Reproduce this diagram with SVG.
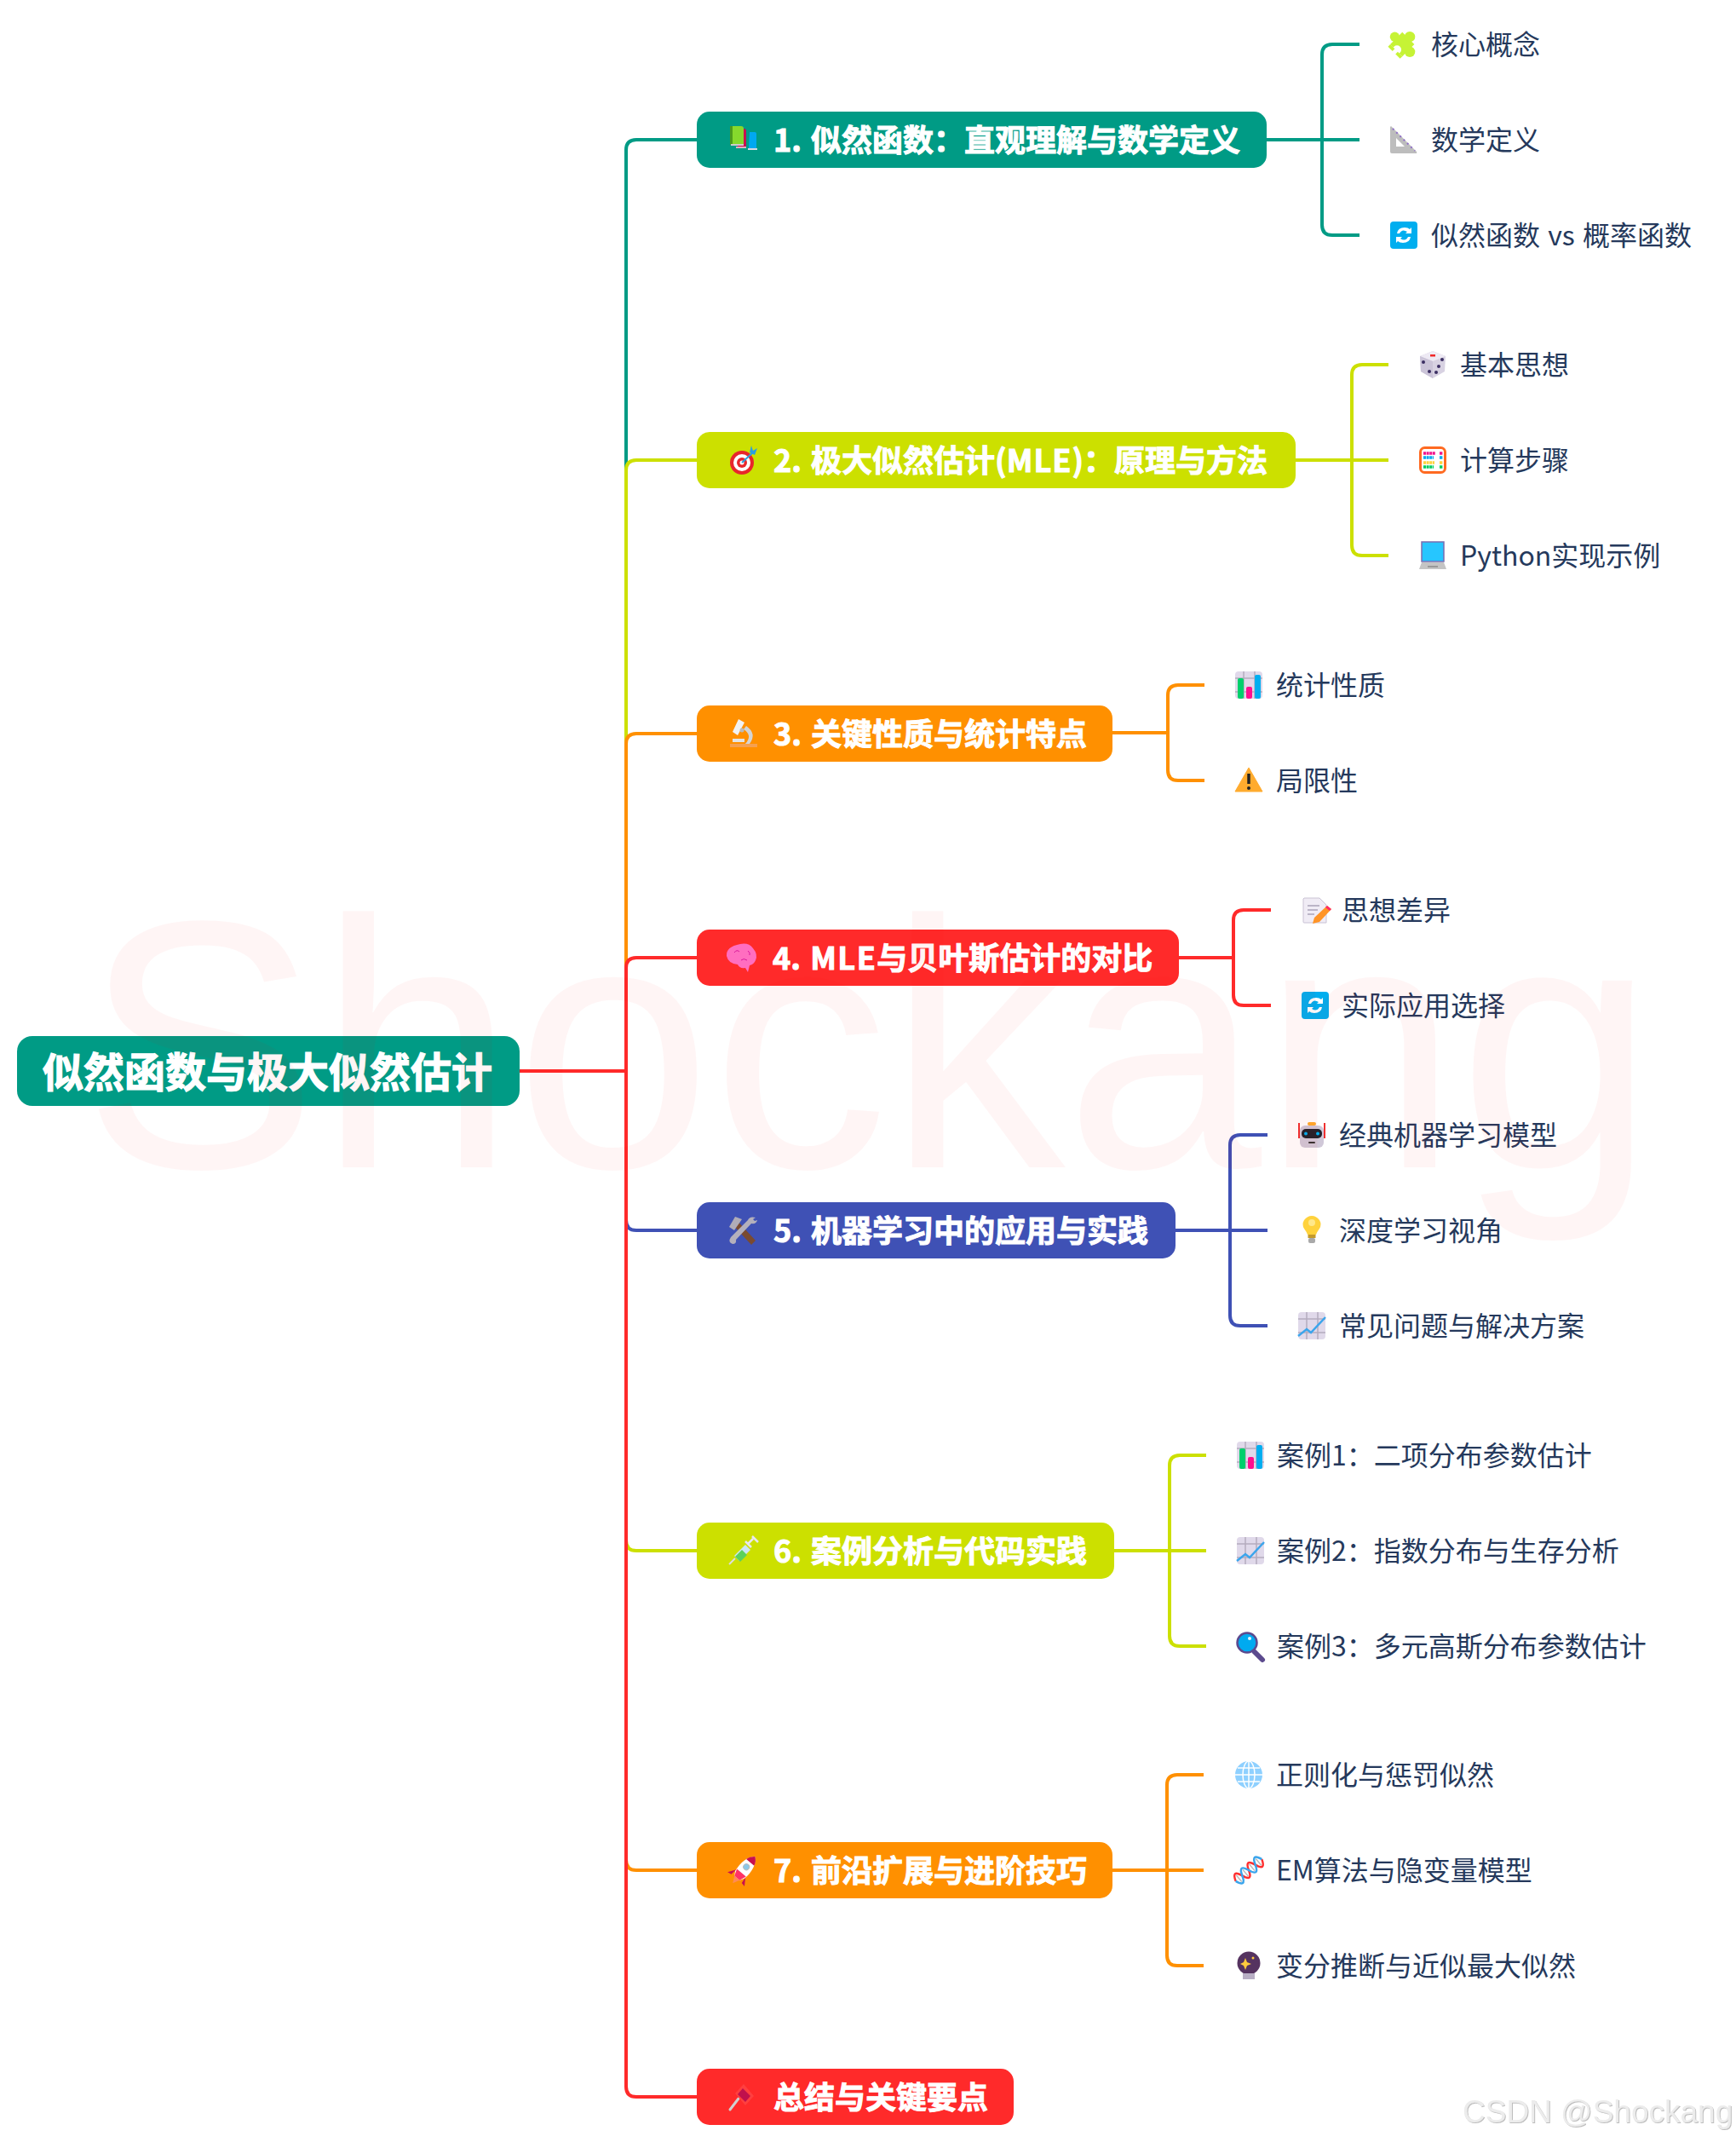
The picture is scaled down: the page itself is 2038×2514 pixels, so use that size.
<svg xmlns="http://www.w3.org/2000/svg" xmlns:xlink="http://www.w3.org/1999/xlink" width="2038" height="2514" viewBox="0 0 2038 2514">
<style>
.l{fill:none;stroke-width:4;stroke-linecap:butt}
.teal{stroke:#009b85}.lime{stroke:#cce000}.org{stroke:#ff9000}.red{stroke:#ff2a2a}.blue{stroke:#3f51b5}
.b1{font-family:"Noto Sans CJK SC","Noto Sans",sans-serif;font-weight:700;font-size:36px;fill:#fff;stroke:#fff;stroke-width:1;word-spacing:3px}
.c{font-family:"Noto Sans CJK SC","Noto Sans",sans-serif;font-size:32px;fill:#25395c}
.r{font-family:"Noto Sans CJK SC",sans-serif;font-weight:700;font-size:48px;fill:#fff;stroke:#fff;stroke-width:1.2}
</style>
<defs>
<filter id="sh" x="-5%" y="-20%" width="110%" height="140%"><feDropShadow dx="1" dy="1" stdDeviation="0.6" flood-color="#bdbdbd"/></filter>
<g id="i-books"><path d="M7 -9h6q2 0 2 2v17h-9z" fill="#00a8f0"/><rect x="5" y="10" width="11" height="2" fill="#d8d8e0"/><path d="M-7 -13h7q3 0 3 2v19h-10z" fill="#c8104f"/><rect x="-9" y="8" width="12" height="2" fill="#e0b0c0"/><path d="M-15 -16h12q3 0 3 3v18h-15z" fill="#86d92c"/><rect x="-16" y="-16" width="3" height="22" fill="#4c9b1c"/><rect x="-15" y="5" width="15" height="2" fill="#ccc"/></g>
<g id="i-puzzle"><g transform="scale(1.25) rotate(45) translate(-1,1)"><rect x="-8" y="-8" width="16" height="16" fill="#c6f335"/><circle cx="0" cy="-10" r="5" fill="#c6f335"/><circle cx="10" cy="0" r="5" fill="#c6f335"/><circle cx="-10" cy="0" r="4.500" fill="#c6f335"/><circle cx="0" cy="7" r="4" fill="#fff"/><rect x="-8" y="8" width="6" height="3" fill="#c6f335"/><rect x="2" y="8" width="6" height="3" fill="#c6f335"/></g></g>
<g id="i-ruler"><path fill-rule="evenodd" d="M-15 -16l30 30q1 2 -1 2h-28q-2 0 -2 -2v-29zM-9 -2v10h10z" fill="#bdbdbd"/><path d="M-13 -13l26 26" stroke="#8e6cc8" stroke-width="2" stroke-dasharray="2 4" fill="none"/></g>
<g id="i-sync"><rect x="-16" y="-16" width="32" height="32" rx="4" fill="#00aeef"/><path d="M-8 -2q1 -7 9 -7q4 0 6 2l2 -2v7h-7l2 -2q-6 -4 -9 2zM8 2q-1 7 -9 7q-4 0 -6 -2l-2 2v-7h7l-2 2q6 4 9 -2z" fill="#fff"/></g>
<g id="i-target"><circle r="14" cy="3" cx="-2" fill="#e8262b"/><circle r="10" cy="3" cx="-2" fill="#fff"/><circle r="6" cy="3" cx="-2" fill="#e8262b"/><circle r="2.500" cy="3" cx="-2" fill="#fff"/><path d="M-2 3l14 -13" stroke="#2c9fe0" stroke-width="2"/><path d="M7 -9l2 -8l2 6l5 -3l-3 8z" fill="#2c9fe0"/></g>
<g id="i-dice"><path d="M0 -16l15 6l-1 18l-14 8l-14 -8l-1 -18z" fill="#d8d2e2"/><path d="M0 -16l15 6l-15 6l-15 -6z" fill="#eeeaf4"/><path d="M0 -4v20l-14 -8l-1 -18z" fill="#cbc4d8"/><rect x="-3" y="-12" width="6" height="2.500" fill="#f02828"/><g fill="#3c2f63"><circle cx="-11" cy="-3" r="2"/><circle cx="-4" cy="8" r="2"/><circle cx="11" cy="-6" r="2"/><circle cx="7" cy="2" r="2"/><circle cx="4" cy="9" r="2"/></g></g>
<g id="i-abacus"><rect x="-14.500" y="-14.500" width="29" height="29" rx="5" fill="#fff" stroke="#ff6a21" stroke-width="3"/><g stroke-width="3.500" stroke-dasharray="3 .6" fill="none"><path d="M-11 -8h14M8 -8h4" stroke="#f0148c"/><path d="M-11 -3h12M8 -3h4" stroke="#00a8ee"/><path d="M-11 3h13M8 3h4" stroke="#ffd23c"/><path d="M-11 8h12M8 8h4" stroke="#00cc5e"/></g></g>
<g id="i-laptop"><rect x="-13" y="-16" width="26" height="23" fill="#26c6ff" stroke="#7a6db0" stroke-width="1.500"/><path d="M-13 8h26l3 8h-32z" fill="#c4c4c4"/><rect x="-6" y="12" width="12" height="2" fill="#999"/></g>
<g id="i-micro"><path d="M-16 16h32v-4h-32z" fill="#f5a050"/><path d="M-6 -17l7 4l-8 15l-6 -4z" fill="#f2f2f2"/><path d="M3 -9q13 9 4 21h-5q9 -10 -2 -17z" fill="#d4d4d4"/><path d="M-13 6h14v4h-14z" fill="#e4e4e4"/><circle cx="-2" cy="-4" r="2.500" fill="#bbb"/></g>
<g id="i-bars"><rect x="-16" y="-16" width="32" height="32" rx="4" fill="#e0d9ea"/><path d="M-16 -8h32M-16 8h32M-6 -16v32M7 -16v32" stroke="#b4acbe" stroke-width="1.500"/><rect x="-13" y="-8" width="7" height="24" rx="2" fill="#00d06c"/><rect x="-3" y="2" width="7" height="14" rx="2" fill="#ff0f8f"/><rect x="7" y="-12" width="7" height="28" rx="2" fill="#00aef0"/></g>
<g id="i-warn"><path d="M0 -15l16 28h-32z" fill="#ffab2e" stroke="#ffab2e" stroke-width="1" stroke-linejoin="round"/><path d="M0 -8v12" stroke="#222" stroke-width="3.500"/><circle cy="9" r="2" fill="#222"/></g>
<g id="i-brain"><path d="M-3 -16q10 -2 15 5q6 7 3 14q-2 5 -7 6l-2 8l-3 -5q-7 1 -9 -4q-11 -1 -13 -10q-1 -11 16 -14z" fill="#ff6ec0"/><path d="M-10 -6q3 -4 6 -1M-2 3q3 -3 7 0M6 -8q3 2 2 5" stroke="#d8189a" stroke-width="1" fill="none"/></g>
<g id="i-memo"><path d="M-13 -14h18l8 8v21h-26q-1 0 -1 -1v-27z" fill="#f0ecf5" stroke="#c9c2d4"/><path d="M-9 -5h14M-9 0h12M-9 5h8" stroke="#a9a3b8" stroke-width="1.500"/><path d="M14 -5l5 4l-14 15l-8 2l2 -7z" fill="#ff9426"/><path d="M14 -5l5 4l-2 2l-5 -4z" fill="#ff2a6a"/></g>
<g id="i-robot"><rect x="-14" y="-11" width="28" height="26" rx="6" fill="#d0c8d8"/><rect x="-12" y="-7" width="24" height="11" rx="5" fill="#22232c"/><circle cx="-7" cy="-1.500" r="2" fill="#00b0f0"/><circle cx="7" cy="-1.500" r="2" fill="#00b0f0"/><rect x="-5" y="-15" width="10" height="4" rx="2" fill="#ffab2e"/><path d="M-15 -14v18M15 -14v18" stroke="#f03030" stroke-width="2"/><rect x="-4" y="8" width="8" height="2" rx="1" fill="#333"/></g>
<g id="i-tools"><path d="M-13 -8l4 -6l24 26l-5 5z" fill="#7a4a30"/><path d="M-16 -4l7 -12l8 3l-9 13z" fill="#b0acb8"/><path d="M15 -15q-7 -2 -9 3l-20 20q-4 6 2 8q5 0 4 -5l18 -19q6 1 7 -4l-3 1l-2 -2z" fill="#b4b0bc"/></g>
<g id="i-bulb"><path d="M-5 5q-1 -3 -4 -7q-3 -5 0 -10q4 -5 9 -5q5 0 9 5q3 5 0 10q-3 4 -4 7z" fill="#ffd23c"/><circle cy="-9" r="4" fill="#ffe88a"/><rect x="-4.500" y="5" width="9" height="4" fill="#c49a2a"/><rect x="-4" y="9" width="8" height="6" rx="2" fill="#a9a9a9"/></g>
<g id="i-chart"><rect x="-16" y="-16" width="32" height="32" rx="4" fill="#e0d9ea"/><path d="M-16 -8h32M-16 8h32M-6 -16v32M7 -16v32" stroke="#b4acbe" stroke-width="1.500"/><path d="M-16 12l10 -8l5 4l17 -18" stroke="#3ba5ec" stroke-width="2.500" fill="none"/></g>
<g id="i-syringe"><path d="M-16 16l7 -7" stroke="#ddd" stroke-width="2"/><path d="M-10 6l13 -13l6 6l-13 13z" fill="#cde7f7"/><path d="M-9 7l8 -8l6 6l-8 8z" fill="#5cd15c"/><path d="M3 -11l7 7M6 -8l6 -6M11 -17l7 7" stroke="#e8e8f0" stroke-width="2.500"/></g>
<g id="i-mag"><path d="M5 7l9 9" stroke="#5c4a8e" stroke-width="6" stroke-linecap="round"/><circle cx="-4" cy="-4" r="11.500" fill="#00aaf0" stroke="#5c4a8e" stroke-width="2.500"/><circle cx="-1" cy="-9" r="2" fill="#e0f6ff"/></g>
<g id="i-rocket"><g transform="rotate(40) translate(0,-1)"><path d="M-7 6l-6 9l5 -1zM7 6l6 9l-5 -1z" fill="#c8104f"/><path d="M-4 13h8l-4 8z" fill="#ff8a56"/><path d="M0 -20q10 9 7 28l-3 5h-8l-3 -5q-3 -19 7 -28z" fill="#fff"/><path d="M0 -20q5 4 6 9h-12q1 -5 6 -9z" fill="#c8104f"/><path d="M-7 5h14l-3 8h-8z" fill="#ff3366"/><circle cy="-4" r="3.500" fill="#8cc8e8" stroke="#bbb"/></g></g>
<g id="i-globe"><circle r="16" fill="#8ed0ff"/><ellipse rx="7" ry="16" fill="none" stroke="#fff" stroke-width="1.500"/><path d="M-16 0h32M-13 -8h26M-13 8h26M0 -16v32" stroke="#fff" stroke-width="1.500"/></g>
<g id="i-dna"><g transform="rotate(-40)"><path d="M-15 -5v10M-5 -5v10M5 -5v10M15 -5v10" stroke="#bbb" stroke-width="1.500"/><path d="M-20 0q5 -14 10 0t10 0t10 0t10 0" stroke="#ff3030" stroke-width="2.500" fill="none"/><path d="M-20 0q5 14 10 0t10 0t10 0t10 0" stroke="#3ba5ec" stroke-width="2.500" fill="none"/></g></g>
<g id="i-ball"><circle cy="-3" r="13.500" fill="#553360"/><rect x="-7" y="9" width="14" height="7" fill="#b8aec4"/><path d="M-4 -9l2 5l5 2l-5 2l-2 5l-2 -5l-4 -2l4 -2z" fill="#ffcb3d"/><circle cx="5" cy="-9" r="1.500" fill="#ffcb3d"/></g>
<g id="i-pin"><path d="M-14 15l10 -13" stroke="#d0d0d0" stroke-width="3" stroke-linecap="round"/><path d="M2 -15l12 14l-10 11l-12 -14z" fill="#ff3f3f"/><path d="M1 -10l9 9l-6 7l-9 -9z" fill="#c0104c"/></g>
</defs>
<rect width="2038" height="2514" fill="#fff"/>
<g id="connectors">
<path class="l teal" d="M735 1257V176q0 -12 12 -12H818"/>
<path class="l lime" d="M735 1257V552q0 -12 12 -12H818"/>
<path class="l org" d="M735 1257V873q0 -12 12 -12H818"/>
<path class="l red" d="M735 1257V1136q0 -12 12 -12H818"/>
<path class="l blue" d="M735 1257V1432q0 12 12 12H818"/>
<path class="l lime" d="M735 1257V1808q0 12 12 12H818"/>
<path class="l org" d="M735 1257V2183q0 12 12 12H818"/>
<path class="l red" d="M735 1257V2449q0 12 12 12H818"/>
<path class="l red" d="M610 1257H735"/>
<path class="l teal" d="M1487 164H1596M1596 52H1564q-12 0 -12 12V264q0 12 12 12H1596"/>
<path class="l lime" d="M1521 540H1630M1630 428H1599q-12 0 -12 12V640q0 12 12 12H1630"/>
<path class="l org" d="M1306 860H1371M1414 804H1383q-12 0 -12 12V904q0 12 12 12H1414"/>
<path class="l red" d="M1384 1124H1448M1492 1068H1460q-12 0 -12 12V1168q0 12 12 12H1492"/>
<path class="l blue" d="M1380 1444H1488M1488 1332H1456q-12 0 -12 12V1544q0 12 12 12H1488"/>
<path class="l lime" d="M1308 1820H1416M1416 1708H1385q-12 0 -12 12V1920q0 12 12 12H1416"/>
<path class="l org" d="M1306 2195H1413M1413 2083H1382q-12 0 -12 12V2295q0 12 12 12H1413"/>
</g>
<g id="root"><rect x="20" y="1216" width="590" height="82" rx="18" fill="#009b85"/><text class="r" x="50" y="1276">似然函数与极大似然估计</text></g>
<g id="n1"><rect x="818" y="131" width="669" height="66" rx="15" fill="#009b85"/><use href="#i-books" x="873" y="164"/><text class="b1" x="908" y="178">1. 似然函数：直观理解与数学定义</text></g>
<g id="n2"><rect x="818" y="507" width="703" height="66" rx="15" fill="#cce000"/><use href="#i-target" x="873" y="540"/><text class="b1" x="908" y="554">2. 极大似然估计(<tspan letter-spacing="1">MLE</tspan>)：原理与方法</text></g>
<g id="n3"><rect x="818" y="828" width="488" height="66" rx="15" fill="#ff9000"/><use href="#i-micro" x="873" y="861"/><text class="b1" x="908" y="875">3. 关键性质与统计特点</text></g>
<g id="n4"><rect x="818" y="1091" width="566" height="66" rx="15" fill="#ff2a2a"/><use href="#i-brain" x="872" y="1124"/><text class="b1" x="907" y="1138">4. <tspan letter-spacing="1.500">MLE</tspan>与贝叶斯估计的对比</text></g>
<g id="n5"><rect x="818" y="1411" width="562" height="66" rx="15" fill="#3f51b5"/><use href="#i-tools" x="872" y="1444"/><text class="b1" x="908" y="1458">5. 机器学习中的应用与实践</text></g>
<g id="n6"><rect x="818" y="1787" width="490" height="66" rx="15" fill="#cce000"/><use href="#i-syringe" x="872" y="1820"/><text class="b1" x="908" y="1834">6. 案例分析与代码实践</text></g>
<g id="n7"><rect x="818" y="2162" width="488" height="66" rx="15" fill="#ff9000"/><use href="#i-rocket" x="873" y="2195"/><text class="b1" x="908" y="2209">7. 前沿扩展与进阶技巧</text></g>
<g id="n8"><rect x="818" y="2428" width="372" height="66" rx="15" fill="#ff2a2a"/><use href="#i-pin" x="871" y="2461"/><text class="b1" x="908" y="2475">总结与关键要点</text></g>
<g id="c11"><use href="#i-puzzle" x="1648" y="52"/><text class="c" x="1680" y="64">核心概念</text></g>
<g id="c12"><use href="#i-ruler" x="1648" y="164"/><text class="c" x="1680" y="176">数学定义</text></g>
<g id="c13"><use href="#i-sync" x="1648" y="276"/><text class="c" x="1680" y="288" word-spacing="2">似然函数 vs 概率函数</text></g>
<g id="c21"><use href="#i-dice" x="1682" y="428"/><text class="c" x="1714" y="440">基本思想</text></g>
<g id="c22"><use href="#i-abacus" x="1682" y="540"/><text class="c" x="1714" y="552">计算步骤</text></g>
<g id="c23"><use href="#i-laptop" x="1682" y="652"/><text class="c" x="1714" y="664">Python实现示例</text></g>
<g id="c31"><use href="#i-bars" x="1466" y="804"/><text class="c" x="1498" y="816">统计性质</text></g>
<g id="c32"><use href="#i-warn" x="1466" y="916"/><text class="c" x="1498" y="928">局限性</text></g>
<g id="c41"><use href="#i-memo" x="1544" y="1068"/><text class="c" x="1575" y="1080">思想差异</text></g>
<g id="c42"><use href="#i-sync" x="1544" y="1180"/><text class="c" x="1575" y="1192">实际应用选择</text></g>
<g id="c51"><use href="#i-robot" x="1540" y="1332"/><text class="c" x="1572" y="1344">经典机器学习模型</text></g>
<g id="c52"><use href="#i-bulb" x="1540" y="1444"/><text class="c" x="1572" y="1456">深度学习视角</text></g>
<g id="c53"><use href="#i-chart" x="1540" y="1556"/><text class="c" x="1572" y="1568">常见问题与解决方案</text></g>
<g id="c61"><use href="#i-bars" x="1468" y="1708"/><text class="c" x="1499" y="1720">案例1：二项分布参数估计</text></g>
<g id="c62"><use href="#i-chart" x="1468" y="1820"/><text class="c" x="1499" y="1832">案例2：指数分布与生存分析</text></g>
<g id="c63"><use href="#i-mag" x="1468" y="1932"/><text class="c" x="1499" y="1944">案例3：多元高斯分布参数估计</text></g>
<g id="c71"><use href="#i-globe" x="1466" y="2083"/><text class="c" x="1498" y="2095">正则化与惩罚似然</text></g>
<g id="c72"><use href="#i-dna" x="1466" y="2195"/><text class="c" x="1498" y="2207">EM算法与隐变量模型</text></g>
<g id="c73"><use href="#i-ball" x="1466" y="2307"/><text class="c" x="1498" y="2319">变分推断与近似最大似然</text></g>
<text x="97" y="1370" font-family="Liberation Sans, Arial, sans-serif" font-size="415" fill="#ff0000" fill-opacity="0.04">Shockang</text>
<text x="1717" y="2491" font-family="Liberation Sans, Arial, sans-serif" font-size="37" fill="#ececec" filter="url(#sh)">CSDN @Shockang</text>
</svg>
